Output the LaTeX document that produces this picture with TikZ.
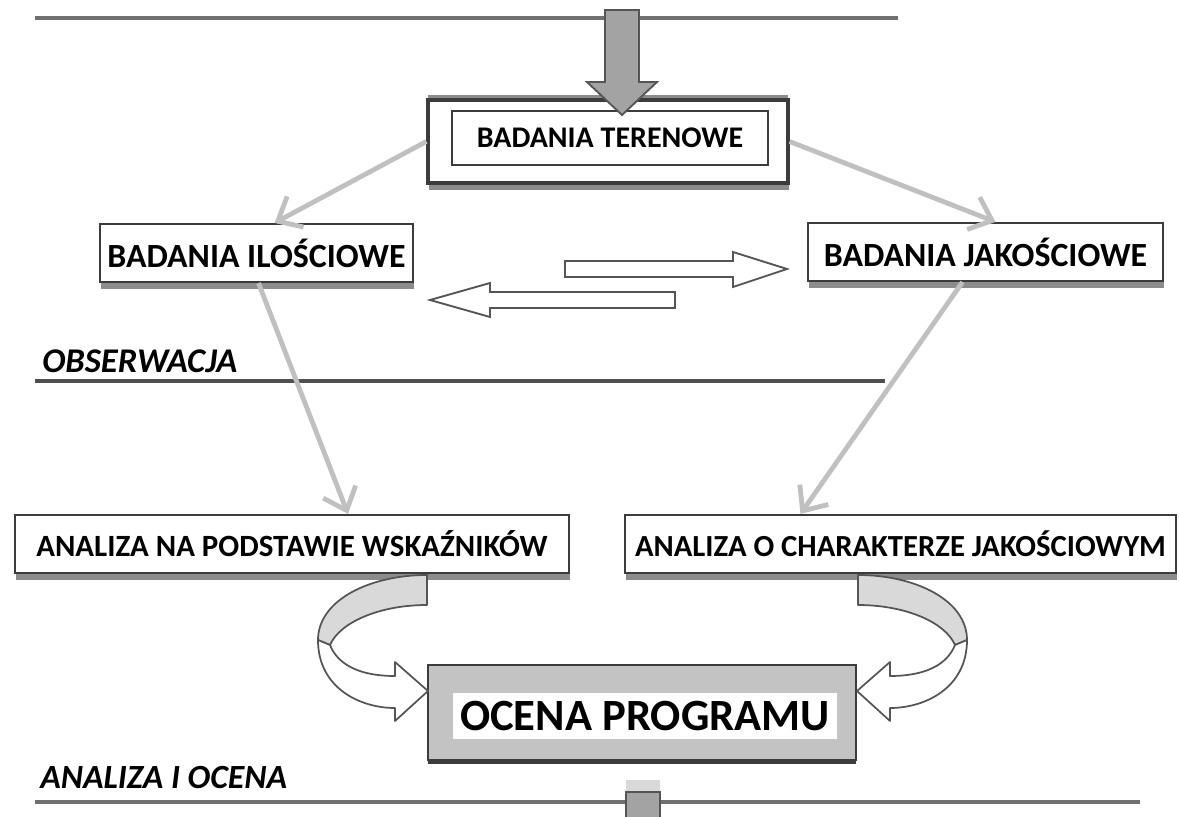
\documentclass[tikz,border=0pt]{standalone}
\usepackage{fontspec}
\setmainfont{Carlito}
\usetikzlibrary{arrows.meta,shadows,calc}
\definecolor{conn}{RGB}{192,192,192}
\definecolor{boxc}{RGB}{60,60,60}
\definecolor{shadc}{RGB}{140,140,140}
\definecolor{linec}{RGB}{112,112,112}
\definecolor{obsline}{RGB}{80,80,80}
\definecolor{bigarr}{RGB}{163,163,163}
\definecolor{outl}{RGB}{85,85,85}
\definecolor{ribbon}{RGB}{217,217,217}
\definecolor{ocfill}{RGB}{195,195,195}
\newcommand\curvArr{%
  \draw[outl, line width=1.3pt, fill=ribbon, line join=round]
    (427,575) -- (427,605) .. controls (380,605) and (340,622) .. (330,645)
    -- (318,640) .. controls (318,600) and (370,575) .. (427,575) -- cycle;
  \draw[outl, line width=1.3pt, fill=white, line join=round]
    (318,640) .. controls (318,688) and (360,708) .. (395,708)
    -- (395,721) -- (428,691) -- (395,662) -- (395,676)
    .. controls (360,676) and (338,665) .. (330,645) -- cycle;
}
\tikzset{
  box/.style={draw=boxc, line width=1.6pt, fill=white, inner sep=0pt,
    drop shadow={shadow xshift=1pt, shadow yshift=-5pt, fill=shadc, opacity=1}},
  lbl/.style={font=\fontsize{25.4}{28}\selectfont\bfseries},
  conline/.style={draw=conn, line width=3.6pt,
    -{Straight Barb[length=15pt,width=26pt]}},
  sect/.style={anchor=west, inner sep=0pt, font=\fontsize{26}{28}\selectfont\bfseries\itshape},
  hollow/.style={draw=outl, line width=1.4pt, fill=white, line join=miter},
}
\begin{document}
\begin{tikzpicture}[x=0.75pt,y=-0.75pt]
\useasboundingbox (0,0) rectangle (1179,817);
% horizontal lines
\draw[linec, line width=3.5pt] (35,18) -- (898,18);
\draw[obsline, line width=3pt] (35,381) -- (885,381);
\draw[linec, line width=2.5pt] (35,802) -- (1140,802);
% section labels
\node[sect] (obs) at (42,361) {OBSERWACJA};
\node[sect, font=\fontsize{25.4}{28}\selectfont\bfseries\itshape] (aio) at (40,778) {ANALIZA I OCENA};
% boxes
\node[box, minimum width=270pt, minimum height=62.25pt, line width=2.4pt,
  drop shadow={shadow xshift=0pt, shadow yshift=4pt, fill=shadc, opacity=1}] (terout) at (608,141.5) {};
\node[draw=boxc, line width=1.5pt, fill=white, inner sep=0pt, minimum width=237pt, minimum height=40.5pt,
  font=\fontsize{22.5}{26}\selectfont\bfseries] (ter) at (610,138) {BADANIA TERENOWE};
\node[box, lbl, minimum width=234.75pt, minimum height=43.5pt] (ilo) at (256.5,253) {BADANIA ILOŚCIOWE};
\node[box, lbl, minimum width=266.25pt, minimum height=43.5pt] (jak) at (985.5,252) {BADANIA JAKOŚCIOWE};
\node[box, minimum width=415.5pt, minimum height=43.5pt, font=\fontsize{23.2}{26}\selectfont\bfseries] (ana1) at (292,544) {ANALIZA NA PODSTAWIE WSKAŹNIKÓW};
\node[box, minimum width=413.25pt, minimum height=43.5pt, font=\fontsize{23}{26}\selectfont\bfseries] (ana2) at (900.5,544) {ANALIZA O CHARAKTERZE JAKOŚCIOWYM};
\node[draw=boxc, line width=1.6pt, fill=ocfill, inner sep=0pt, minimum width=321pt, minimum height=71.25pt,
  drop shadow={shadow xshift=0pt, shadow yshift=-3pt, fill=boxc, opacity=1}] (ocena) at (642,712.5) {};
\node[fill=white, inner sep=0pt, minimum width=288pt, minimum height=34.5pt,
  font=\fontsize{33.5}{36}\selectfont\bfseries] (ocenatxt) at (645,716) {OCENA PROGRAMU};
% big arrow on top
\draw[outl, line width=1.4pt, fill=bigarr, line join=miter]
  (605,10) -- (605,82) -- (587,82) -- (622,115) -- (657,82) -- (639,82) -- (639,10) -- cycle;
% small arrow stub at bottom
\fill[conn!60] (626,780) rectangle (660,792);
\draw[outl, line width=1.3pt, fill=bigarr] (626,817) -- (626,792) -- (660,792) -- (660,817);
% gray connectors
\draw[conline] (terout.west) -- ($(ilo.north)+(18,0)$);
\draw[conline] (terout.east) -- ($(jak.north)+(10,0)$);
\draw[conline] ($(ilo.south)+(2,0)$) -- ($(ana1.north)+(56,0)$);
\draw[conline] ($(jak.south)+(-23,0)$) -- ($(ana2.north)+(-100,0)$);
% hollow arrows between columns
\draw[hollow] (565,261) -- (733,261) -- (733,252) -- (787,269) -- (733,287) -- (733,277) -- (565,277) -- cycle;
\draw[hollow] (675,292) -- (490,292) -- (490,283) -- (430,300) -- (490,317) -- (490,308) -- (675,308) -- cycle;
% curved arrows
\curvArr
\begin{scope}[shift={(1285,0)}, xscale=-1]
\curvArr
\end{scope}
\end{tikzpicture}
\end{document}
